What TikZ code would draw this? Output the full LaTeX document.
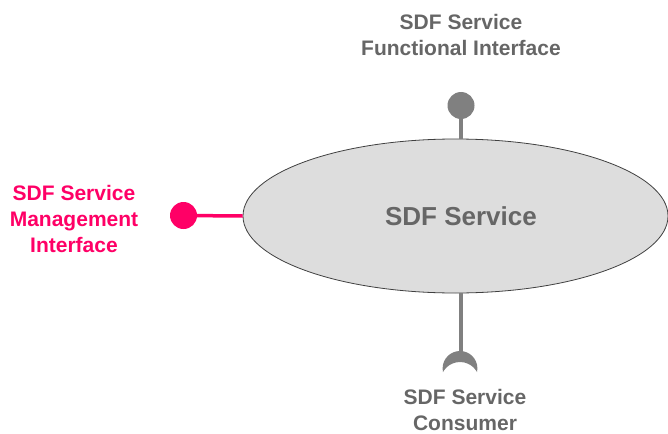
\documentclass[tikz,border=0pt]{standalone}
\usepackage{fontspec}
\setmainfont{Liberation Sans}
\usetikzlibrary{shapes.geometric}
\definecolor{txtgray}{HTML}{666666}
\definecolor{pingray}{HTML}{808080}
\definecolor{mgmt}{HTML}{FF0066}
\definecolor{bodyfill}{HTML}{DDDDDD}
\definecolor{edge}{HTML}{404040}
\tikzset{
  caption/.style={font=\fontsize{21}{26}\selectfont\bfseries, align=center, inner sep=0pt},
  pin/.style={circle, fill=#1, inner sep=0pt, minimum size=27pt},
  stem/.style={draw=#1, line width=4pt}
}
\begin{document}
\begin{tikzpicture}[x=1pt, y=-1pt]
\useasboundingbox (0,0) rectangle (668,433);

% service body
\node[ellipse, draw=edge, line width=0.8pt, fill=bodyfill, inner sep=0pt,
      minimum width=425pt, minimum height=154pt] (svc) at (455.5,216) {};
\node[caption, text=txtgray, font=\fontsize{26}{30}\selectfont\bfseries] (svct) at (461,216) {SDF Service};

% functional interface (provided, top)
\node[pin=pingray] (fi) at (461,105.5) {};
\draw[stem=pingray] (fi.center) -- (fi.center |- svc.north);
\node[caption, text=txtgray] (fit) at (461,35) {SDF Service\\Functional Interface};

% management interface (provided, left)
\node[pin=mgmt] (mi) at (183.5,215.5) {};
\draw[mgmt, line width=3.5pt] (mi.center) -- (svc.west);
\node[caption, text=mgmt] (mit) at (74,219) {SDF Service\\Management\\Interface};

% consumer socket (required, bottom)
\coordinate (sock) at (460.5,357);
\draw[stem=pingray] (sock |- svc.south) -- (sock);
\begin{scope}
  \clip (460,368.4) circle (17.4pt);
  \fill[pingray, even odd rule] (400,340) rectangle (520,420) (460,381.45) circle (19.45pt);
\end{scope}
\node[caption, text=txtgray] (sct) at (465,410) {SDF Service\\Consumer};
\end{tikzpicture}
\end{document}
